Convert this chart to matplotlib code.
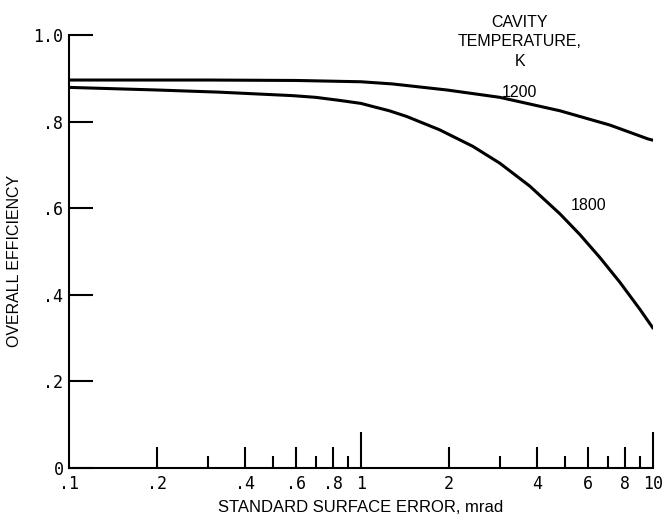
import matplotlib
matplotlib.use("Agg")
import matplotlib.pyplot as plt
from matplotlib.ticker import FixedLocator, FixedFormatter, NullFormatter

# ---- data ----
x_1200 = [0.1, 0.3, 0.6, 0.844, 1.0, 1.28, 1.97, 2.99, 4.8, 7.12, 9.61, 10.0]
y_1200 = [0.896, 0.896, 0.895, 0.893, 0.892, 0.887, 0.873, 0.856, 0.825, 0.792, 0.760, 0.757]

x_1800 = [0.1, 0.2, 0.327, 0.582, 0.7, 0.844, 1.0, 1.095, 1.25, 1.432, 1.859, 2.413, 2.987,
          3.785, 4.8, 5.62, 6.58, 7.7, 9.03, 10.0]
y_1800 = [0.879, 0.873, 0.868, 0.860, 0.856, 0.849, 0.842, 0.835, 0.825, 0.812, 0.781, 0.743,
          0.704, 0.651, 0.587, 0.539, 0.486, 0.429, 0.366, 0.323]

x_major = [0.1, 0.2, 0.4, 0.6, 0.8, 1, 2, 4, 6, 8, 10]
x_major_labels = [".1", ".2", ".4", ".6", ".8", "1", "2", "4", "6", "8", "10"]
x_minor = [0.3, 0.5, 0.7, 0.9, 3, 5, 7, 9]
y_ticks = [0, 0.2, 0.4, 0.6, 0.8, 1.0]
y_tick_labels = ["0", ".2", ".4", ".6", ".8", "1.0"]

curve_labels = ["1200", "1800"]
legend_title = "CAVITY\nTEMPERATURE,\nK"
x_label = "STANDARD SURFACE ERROR, mrad"
y_label = "OVERALL EFFICIENCY"

# ---- figure ----
sans = ["Liberation Sans", "DejaVu Sans"]
mono = ["DejaVu Sans Mono"]

fig = plt.figure(figsize=(6.62, 5.21), dpi=100)
ax = fig.add_axes([69 / 662, 1 - 468 / 521, (653 - 69) / 662, (468 - 35) / 521])

ax.plot(x_1200, y_1200, color="black", lw=2.2, solid_capstyle="round", solid_joinstyle="round")
ax.plot(x_1800, y_1800, color="black", lw=2.2, solid_capstyle="round", solid_joinstyle="round")

ax.set_xscale("log")
ax.set_xlim(0.1, 10)
ax.set_ylim(0, 1.0)

for s in ["top", "right"]:
    ax.spines[s].set_visible(False)
for s in ["left", "bottom"]:
    ax.spines[s].set_linewidth(1.5)

ax.xaxis.set_major_locator(FixedLocator(x_major))
ax.xaxis.set_major_formatter(FixedFormatter(x_major_labels))
ax.xaxis.set_minor_locator(FixedLocator(x_minor))
ax.xaxis.set_minor_formatter(NullFormatter())
ax.tick_params(axis="x", which="major", direction="in", length=15, width=1.5, pad=5)
ax.tick_params(axis="x", which="minor", direction="in", length=9, width=1.5)

ax.set_yticks(y_ticks)
ax.set_yticklabels(y_tick_labels)
ax.tick_params(axis="y", which="major", direction="in", length=17, width=1.5, pad=4)

for lab in ax.get_xticklabels() + ax.get_yticklabels():
    lab.set_family(mono)
    lab.set_fontsize(12)

# tick lengths: 1 and 10 longer, 0.1 hidden
for t, v in zip(ax.xaxis.get_major_ticks(), x_major):
    if v in (1, 10):
        t.tick1line.set_markersize(26)
    elif v == 0.1:
        t.tick1line.set_markersize(0)

ax.set_xlabel(x_label, family=sans, fontsize=12, labelpad=5)
ax.set_ylabel(y_label, family=sans, fontsize=11.5)
ax.yaxis.set_label_coords(-0.08, 0.478)

ax.text(3.5, 0.868, curve_labels[0], family=sans, fontsize=11.5, ha="center", va="center")
ax.text(6.03, 0.607, curve_labels[1], family=sans, fontsize=11.5, ha="center", va="center")
ax.text(3.5, 0.984, legend_title, family=sans, fontsize=11.5, ha="center", va="center",
        multialignment="center", linespacing=1.4, clip_on=False)

fig.savefig("out.png", dpi=100)
